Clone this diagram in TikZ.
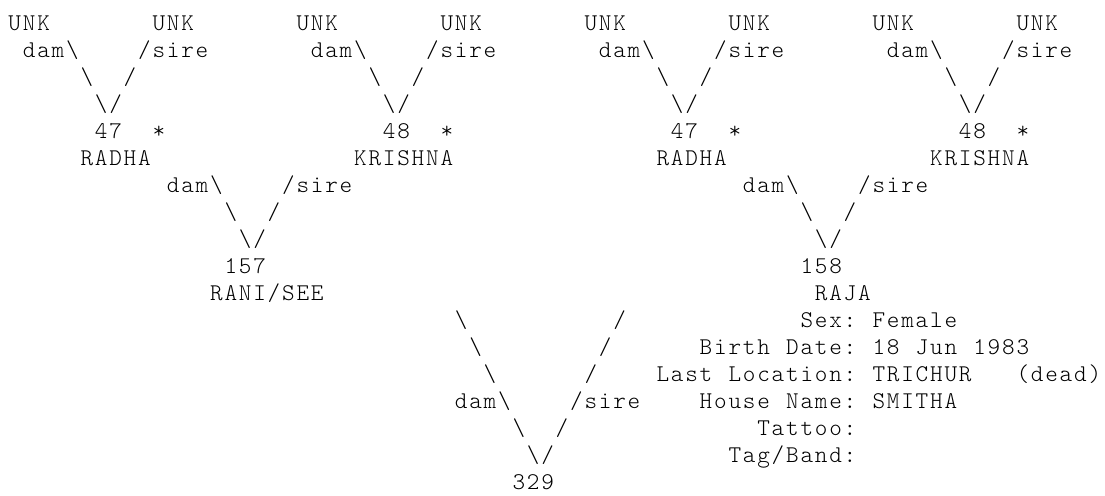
\documentclass[tikz,border=0pt]{standalone}
\usepackage{fontspec}
\newfontfamily\asciiff{lmmonolt10-regular.otf}[LetterSpace=7.5]
\newcommand{\asciifont}{\asciiff\fontsize{12pt}{13.5pt}\selectfont}
\newcommand{\bsl}{\textbackslash}
\tikzset{
  ascii/.style={anchor=base west, inner sep=0pt, outer sep=0pt, font=\asciifont},
}
\begin{document}
\begin{tikzpicture}[x=7.2pt, y=-13.5pt]
  \useasboundingbox (-4.25pt,15.25pt) rectangle (548.25pt,-232.25pt);
  % grandparents
  \foreach \o/\id/\nm/\nx [count=\i] in {0/47/RADHA/5,20/48/KRISHNA/4,40/47/RADHA/5,60/48/KRISHNA/4}{
    \node[ascii] (unkd\i) at (\o,0) {UNK};
    \node[ascii] (unks\i) at (\o+10,0) {UNK};
    \node[ascii] (damA\i) at (\o+1,1) {dam\bsl};
    \node[ascii] (sireA\i) at (\o+9,1) {/sire};
    \node[ascii] (bsA\i) at (\o+5,2) {\bsl};
    \node[ascii] (slA\i) at (\o+8,2) {/};
    \node[ascii] (vA\i) at (\o+6,3) {\bsl/};
    \node[ascii] (idA\i) at (\o+6,4) {\id};
    \node[ascii] (starA\i) at (\o+10,4) {*};
    \node[ascii] (nameA\i) at (\o+\nx,5) {\nm};
  }
  % parents
  \foreach \o/\id/\nm/\nx [count=\i] in {0/157/{RANI/SEE}/14,40/158/RAJA/16}{
    \node[ascii] (damB\i) at (\o+11,6) {dam\bsl};
    \node[ascii] (sireB\i) at (\o+19,6) {/sire};
    \node[ascii] (bsB\i) at (\o+15,7) {\bsl};
    \node[ascii] (slB\i) at (\o+18,7) {/};
    \node[ascii] (vB\i) at (\o+16,8) {\bsl/};
    \node[ascii] (idB\i) at (\o+15,9) {\id};
    \node[ascii] (nameB\i) at (\o+\nx,10) {\nm};
  }
  % subject
  \node[ascii] (bsC1) at (31,11) {\bsl};
  \node[ascii] (slC1) at (42,11) {/};
  \node[ascii] (bsC2) at (32,12) {\bsl};
  \node[ascii] (slC2) at (41,12) {/};
  \node[ascii] (bsC3) at (33,13) {\bsl};
  \node[ascii] (slC3) at (40,13) {/};
  \node[ascii] (damC) at (31,14) {dam\bsl};
  \node[ascii] (sireC) at (39,14) {/sire};
  \node[ascii] (bsC4) at (35,15) {\bsl};
  \node[ascii] (slC4) at (38,15) {/};
  \node[ascii] (vC) at (36,16) {\bsl/};
  \node[ascii] (idC) at (35,17) {329};
  % details
  \node[ascii] (sexL) at (55,11) {Sex:};
  \node[ascii] (sexV) at (60,11) {Female};
  \node[ascii] (birthL) at (48,12) {Birth};
  \node[ascii] (birthLb) at (54,12) {Date:};
  \node[ascii] (birthV) at (60,12) {18};
  \node[ascii] (birthVb) at (63,12) {Jun};
  \node[ascii] (birthVc) at (67,12) {1983};
  \node[ascii] (locL) at (45,13) {Last};
  \node[ascii] (locLb) at (50,13) {Location:};
  \node[ascii] (locV) at (60,13) {TRICHUR};
  \node[ascii] (locVb) at (70,13) {(dead)};
  \node[ascii] (houseL) at (48,14) {House};
  \node[ascii] (houseLb) at (54,14) {Name:};
  \node[ascii] (houseV) at (60,14) {SMITHA};
  \node[ascii] (tattooL) at (52,15) {Tattoo:};
  \node[ascii] (tagL) at (50,16) {Tag/Band:};
\end{tikzpicture}
\end{document}
